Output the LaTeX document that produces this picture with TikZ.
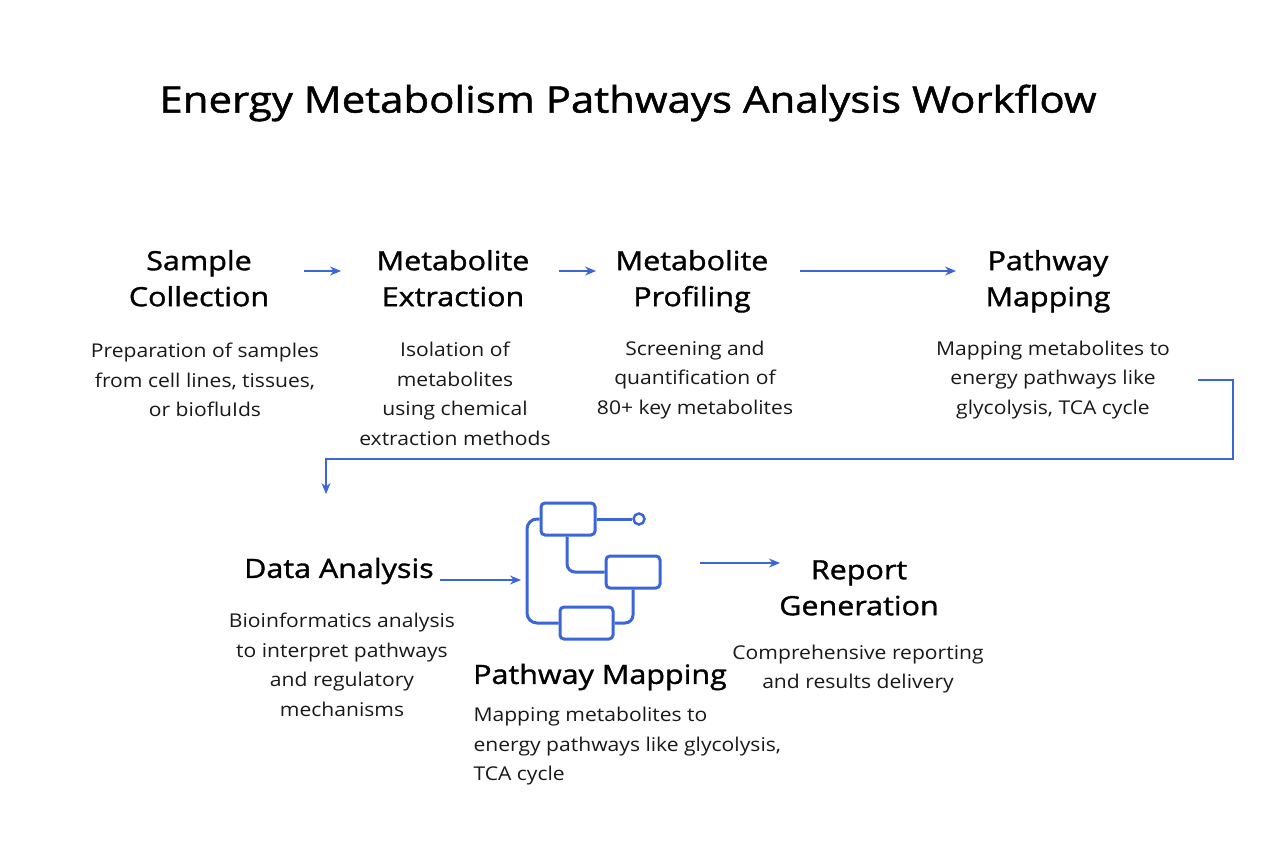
\documentclass[tikz,border=0pt]{standalone}
\usepackage{fontspec}
\setmainfont{Open Sans}[FakeStretch=1.11]
\newfontfamily\headfont{Open Sans}[FakeStretch=1.15,FakeBold=1.3]
\usetikzlibrary{arrows.meta}
\definecolor{blu}{HTML}{3B66D8}
\begin{document}
\begin{tikzpicture}[x=1pt,y=-1pt,
  head/.style={align=center,font=\headfont\fontsize{26.5}{36}\selectfont,text=black},
  body/.style={align=center,font=\fontsize{19}{29.5}\selectfont,text=black!90},
  arr/.style={draw=blu,line width=1.4pt,-{Stealth[length=11pt,width=9pt]}},
  flow/.style={draw=blu,line width=1.2pt},
  ic/.style={draw=blu,line width=3pt,rounded corners=4pt}]
\useasboundingbox[fill=white] (0,0) rectangle (1264,859);
\node[font=\headfont\fontsize{36.5}{44}\selectfont] (title) at (628,103) {Energy Metabolism Pathways Analysis Workflow};
\node[head] (h1) at (199,281) {\strut Sample\\\strut Collection};
\node[head] (h2) at (453,281) {\strut Metabolite\\\strut Extraction};
\node[head] (h3) at (692,281) {\strut Metabolite\\\strut Profiling};
\node[head] (h4) at (1048,281) {\strut Pathway\\\strut Mapping};
\node[body] (b1) at (205,380) {Preparation of samples\\from cell lines, tissues,\\or biofluIds};
\node[body] (b2) at (455,394) {Isolation of\\metabolites\\using chemical\\extraction methods};
\node[body] (b3) at (695,380) {Screening and\\quantification of\\80+ key metabolites};
\node[body] (b4) at (1053,380) {Mapping metabolites to\\energy pathways like\\glycolysis, TCA cycle};
\coordinate (a1s) at (304,271); \coordinate (a1e) at (341,271);
\coordinate (a2s) at (559,271); \coordinate (a2e) at (596,271);
\coordinate (a3s) at (800,271); \coordinate (a3e) at (956,271);
\draw[arr] (a1s) -- (a1e);
\draw[arr] (a2s) -- (a2e);
\draw[arr] (a3s) -- (a3e);
\coordinate (c1) at (1198,380); \coordinate (c2) at (326,494);
\draw[flow,-{Stealth[length=11pt,width=9pt]}] (c1) -- (1233,380) -- (1233,459) -- (326,459) -- (c2);
\node[head] (h5) at (339,571) {Data Analysis};
\node[body] (b5) at (342,665) {Bioinformatics analysis\\to interpret pathways\\and regulatory\\mechanisms};
\node[head] (h6) at (600,677) {Pathway Mapping};
\node[body,align=left,anchor=north west] (b6) at (470,704) {Mapping metabolites to\\energy pathways like glycolysis,\\TCA cycle};
\node[head] (h7) at (859,590) {\strut Report\\\strut Generation};
\node[body] (b7) at (858,669) {Comprehensive reporting\\and results delivery};
% icon
\node[ic,minimum width=54pt,minimum height=32pt] (i1) at (568,519) {};
\node[ic,minimum width=54pt,minimum height=32pt] (i2) at (633,572) {};
\node[ic,minimum width=53pt,minimum height=32pt] (i3) at (586.5,623) {};
\node[draw=blu,line width=2.5pt,circle,minimum size=11pt,inner sep=0pt] (ic0) at (639,519) {};
\draw[blu,line width=3pt] (i1.east) -- (ic0.west);
\draw[ic,rounded corners=8pt] (i1.south) ++(-1,0) |- (i2.west);
\draw[ic,rounded corners=10pt] (i1.west) -| (527,623) -- (i3.west);
\draw[ic,rounded corners=8pt] (i2.south) |- (i3.east);
\coordinate (d1) at (440,580); \coordinate (d2) at (521,580);
\draw[arr] (d1) -- (d2);
\coordinate (e1) at (700,563); \coordinate (e2) at (780,563);
\draw[arr] (e1) -- (e2);
\end{tikzpicture}
\end{document}
